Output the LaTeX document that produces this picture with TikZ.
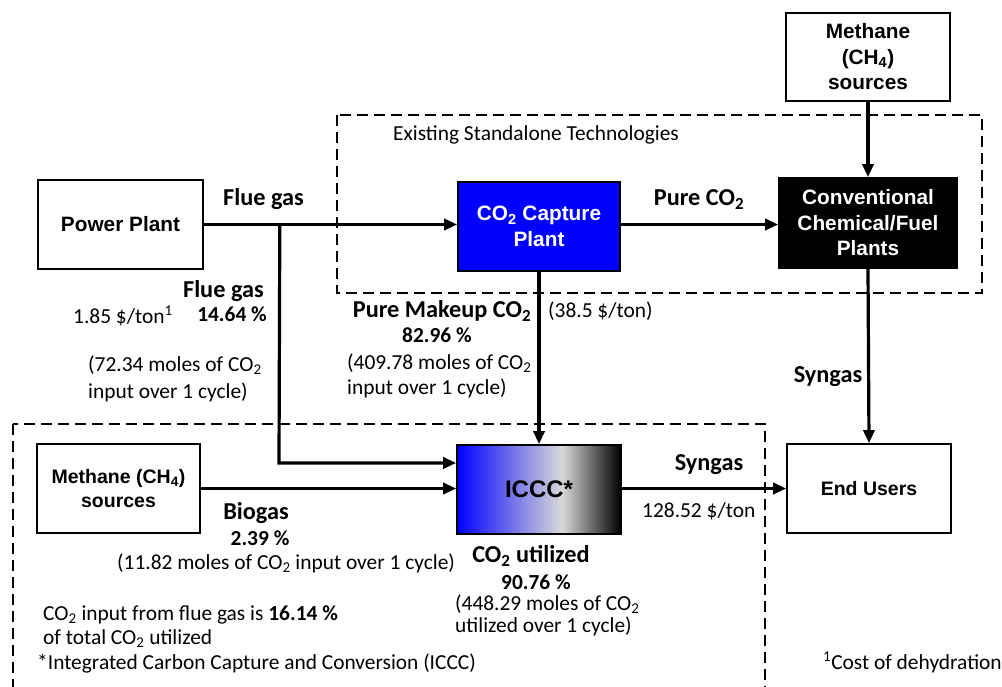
\documentclass[tikz,border=0pt]{standalone}
\usepackage{fontspec}
\setmainfont{Carlito}
\newfontfamily\arialf{Liberation Sans}
\usetikzlibrary{arrows.meta}
% blue -> light grey -> black, left to right
\pgfdeclarehorizontalshading{icccshade}{100bp}{color(0bp)=(blue); color(25bp)=(blue); color(57bp)=(black!15); color(75bp)=(black); color(100bp)=(black)}
\begin{document}
\begin{tikzpicture}[x=1pt,y=-1pt,
  box/.style={draw, line width=1.6pt, minimum width=164pt, minimum height=89pt,
    align=center, inner sep=0, font=\arialf\bfseries\fontsize{20.8}{25.5}\selectfont},
  flow/.style={line width=3.2pt, -{Triangle[length=13pt,width=11pt]}},
  zone/.style={line width=2.4pt, dash pattern=on 11pt off 6pt},
  lbl/.style={inner sep=0, font=\fontsize{21.4}{25}\selectfont},
  blbl/.style={inner sep=0, font=\bfseries\fontsize{24.3}{28}\selectfont},
  pct/.style={inner sep=0, font=\bfseries\fontsize{21.4}{25}\selectfont}]
\useasboundingbox (0,0) rectangle (1002,687);
\clip (0,0) rectangle (1002,687);

% grouping frames
\draw[zone] (337,115) rectangle (982,293);
\draw[zone] (13,424) rectangle (765,720);

% process boxes
\node[box, minimum width=165pt] (pp) at (120.5,224.5) {Power Plant};
\node[box, minimum height=88pt] (meth) at (868,57) {Methane\\(CH\textsubscript{4})\\sources};
\node[box, fill=black, text=white, minimum width=178pt, minimum height=90pt] (conv) at (868,223) {Conventional\\Chemical/Fuel\\Plants};
\node[box, fill=blue, text=white, minimum width=162pt] (cap) at (539,226.5) {CO\textsubscript{2} Capture\\Plant};
\node[box, shading=icccshade, font=\arialf\bfseries\fontsize{24}{28}\selectfont] (iccc) at (539,489.5) {ICCC*};
\node[box, minimum width=163pt, font=\arialf\bfseries\fontsize{19.5}{24}\selectfont] (mb) at (118.5,488.5) {Methane (CH\textsubscript{4})\\sources};
\node[box, font=\arialf\bfseries\fontsize{19.5}{24}\selectfont] (eu) at (869,488.5) {End Users};

% flows
\draw[flow] (pp.east) -- (pp.east -| cap.west);
\coordinate (br) at ([xshift=76pt]pp.east);
\coordinate (bend) at (279,463);
\draw[flow] (br) -- (bend) -- (bend -| iccc.west);
\draw[flow] (mb.east) -- (mb.east -| iccc.west);
\draw[flow] (cap.south) -- (iccc.north);
\draw[flow] (pp.east -| cap.east) -- (pp.east -| conv.west);
\draw[flow] (meth.south) -- (conv.north);
\draw[flow] (conv.south) -- (eu.north);
\draw[flow] (iccc.east |- eu.west) -- (eu.west);

% labels
\node[lbl, anchor=mid west] (est) at (393,138) {Existing Standalone Technologies};
\node[blbl, anchor=mid] (fg1) at (263.5,203) {Flue gas};
\node[blbl, anchor=mid] (pco) at (699,203) {Pure CO\textsubscript{2}};
\node[blbl, anchor=mid east] (fg2) at (264,295) {Flue gas};
\node[pct, anchor=mid east] (fgp) at (267,319) {14.64 \%};
\node[lbl, anchor=mid west] (fgc) at (73,321) {1.85 \$/ton\textsuperscript{1}};
\node[lbl, anchor=mid west] (fgm1) at (88,369) {(72.34 moles of CO\textsubscript{2}};
\node[lbl, anchor=mid west] (fgm2) at (88,396) {input over 1 cycle)};
\node[blbl, anchor=mid] (pm) at (442,315) {Pure Makeup CO\textsubscript{2}};
\node[pct, anchor=mid] (pmp) at (437,340) {82.96 \%};
\node[lbl, anchor=mid west] (pmm1) at (347,367) {(409.78 moles of CO\textsubscript{2}};
\node[lbl, anchor=mid west] (pmm2) at (347,392) {input over 1 cycle)};
\node[lbl, anchor=mid west] (pmc) at (548,315) {(38.5 \$/ton)};
\node[blbl, anchor=mid] (sg1) at (828,380) {Syngas};
\node[blbl, anchor=mid] (sg2) at (709,468) {Syngas};
\node[lbl, anchor=mid west] (sgc) at (642,515) {128.52 \$/ton};
\node[blbl, anchor=mid] (bg) at (256,517) {Biogas};
\node[pct, anchor=mid] (bgp) at (260,543) {2.39 \%};
\node[lbl, anchor=mid west] (bgm) at (117,567) {(11.82 moles of CO\textsubscript{2} input over 1 cycle)};
\node[lbl, anchor=mid west] (sh1) at (43,618) {CO\textsubscript{2} input from flue gas is \textbf{16.14 \%}};
\node[lbl, anchor=mid west] (sh2) at (43,642) {of total CO\textsubscript{2} utilized};
\node[lbl, anchor=mid west] (note) at (37,667) {*Integrated Carbon Capture and Conversion (ICCC)};
\node[blbl, anchor=mid] (ut) at (531,560) {CO\textsubscript{2} utilized};
\node[pct, anchor=mid] (utp) at (536,587) {90.76 \%};
\node[lbl, anchor=mid west] (utm1) at (455,608) {(448.29 moles of CO\textsubscript{2}};
\node[lbl, anchor=mid west] (utm2) at (455,630) {utilized over 1 cycle)};
\node[lbl, anchor=mid west] (fn) at (823,667) {\textsuperscript{1}Cost of dehydration};
\end{tikzpicture}
\end{document}
